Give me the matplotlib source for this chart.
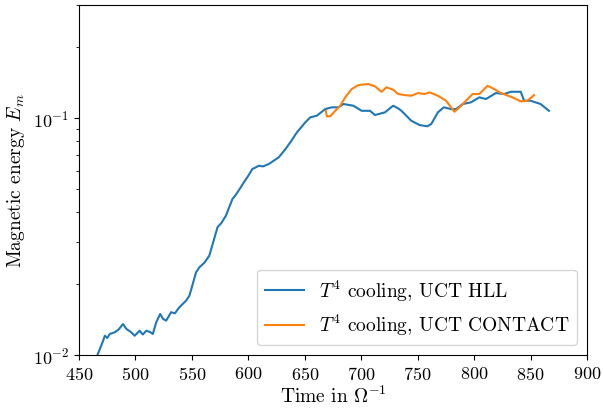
import matplotlib
matplotlib.use("Agg")
import matplotlib.pyplot as plt

plt.rcParams['font.family'] = 'serif'
plt.rcParams['font.serif'] = ['cmr10']
plt.rcParams['mathtext.fontset'] = 'cm'
plt.rcParams['axes.formatter.use_mathtext'] = True
plt.rcParams['axes.unicode_minus'] = True

# Blue series: T^4 cooling, UCT HLL
t_hll = [466.1, 468.5, 470.5, 472.9, 475.0, 477.3, 481.7, 485.0, 489.0, 492.0, 496.0, 499.3, 503.7, 506.5, 509.6,
         513.0, 515.4, 518.4, 521.9, 524.5, 527.2, 531.6, 535.0, 538.9, 544.8, 547.8, 553.7, 556.6,
         561.0, 565.4, 572.7, 576.0, 580.1, 585.9, 589.0, 593.3, 596.5, 600.0, 603.5, 609.4, 613.0, 618.2, 627.0,
         632.9, 638.0, 643.1, 650.5, 654.9, 660.7, 668.1, 674.0, 679.9, 684.3, 693.1,
         700.4, 707.8, 712.2, 721.0, 728.3, 732.7, 735.6, 744.4, 751.8, 758.5,
         762.0, 767.9, 773.2, 779.6, 784.0, 789.9, 797.2, 804.6, 810.5, 819.3,
         826.7, 832.5, 841.3, 844.3, 850.1, 858.9, 866.3]
e_hll = [0.00993, 0.0106, 0.0112, 0.01206, 0.01180, 0.01227, 0.01247, 0.01280, 0.01351, 0.01288, 0.01250, 0.01206, 0.01266, 0.01220, 0.01266,
         0.01250, 0.01227, 0.01374, 0.0149, 0.0142, 0.01396, 0.01515, 0.0150, 0.0159, 0.01695, 0.01779, 0.02233, 0.02344,
         0.0245, 0.02624, 0.0346, 0.0360, 0.0387, 0.0455, 0.0475, 0.0510, 0.0540, 0.0571, 0.0609, 0.0629, 0.0625, 0.0640, 0.0683,
         0.0740, 0.0800, 0.0871, 0.0959, 0.1007, 0.1023, 0.1091, 0.1110, 0.1110, 0.1146, 0.1127,
         0.1073, 0.1073, 0.1030, 0.1057, 0.1127, 0.1099, 0.1073, 0.0974, 0.0934, 0.0923,
         0.0943, 0.1057, 0.1110, 0.1091, 0.1091, 0.1146, 0.1165, 0.1223, 0.1203, 0.1275,
         0.1263, 0.1291, 0.1291, 0.1183, 0.1183, 0.1146, 0.1073]

# Orange series: T^4 cooling, UCT CONTACT
t_con = [668.7, 669.5, 672.5, 677.0, 681.4, 685.8, 691.6, 697.5, 706.3, 712.2,
         718.0, 722.4, 728.3, 732.7, 738.6, 744.4, 750.3, 756.2, 760.6, 767.9,
         775.2, 779.6, 782.6, 787.0, 791.4, 798.7, 804.6, 811.9, 817.8, 823.7,
         834.0, 841.3, 847.2, 853.1]
e_con = [0.1073, 0.1017, 0.1017, 0.1073, 0.1127, 0.1223, 0.1326, 0.1378, 0.1392, 0.1361,
         0.1291, 0.1348, 0.1317, 0.1263, 0.1250, 0.1242, 0.1275, 0.1263, 0.1283, 0.1242,
         0.1183, 0.1110, 0.1063, 0.1110, 0.1165, 0.1263, 0.1263, 0.1368, 0.1326, 0.1275,
         0.1223, 0.1176, 0.1183, 0.1250]

labels = [r'$T^4$ cooling, UCT HLL', r'$T^4$ cooling, UCT CONTACT']
xticks = [450, 500, 550, 600, 650, 700, 750, 800, 850, 900]

fig = plt.figure(figsize=(6.03, 4.10), dpi=100)
ax = fig.add_axes([79/603, 1-356/410, (587-79)/603, (356-6)/410])
ax.plot(t_hll, e_hll, color='#1f77b4', lw=1.5, label=labels[0])
ax.plot(t_con, e_con, color='#ff7f0e', lw=1.5, label=labels[1])
ax.set_yscale('log')
ax.set_xlim(450, 900)
ax.set_ylim(0.01, 0.3)
ax.set_xticks(xticks)
ax.tick_params(labelsize=13)
ax.set_xlabel(r'Time in $\Omega^{-1}$', fontsize=14, labelpad=2)
ax.set_ylabel(r'Magnetic energy $E_m$', fontsize=14)
ax.legend(loc='lower right', fontsize=14)
fig.savefig('out.png', dpi=100)
